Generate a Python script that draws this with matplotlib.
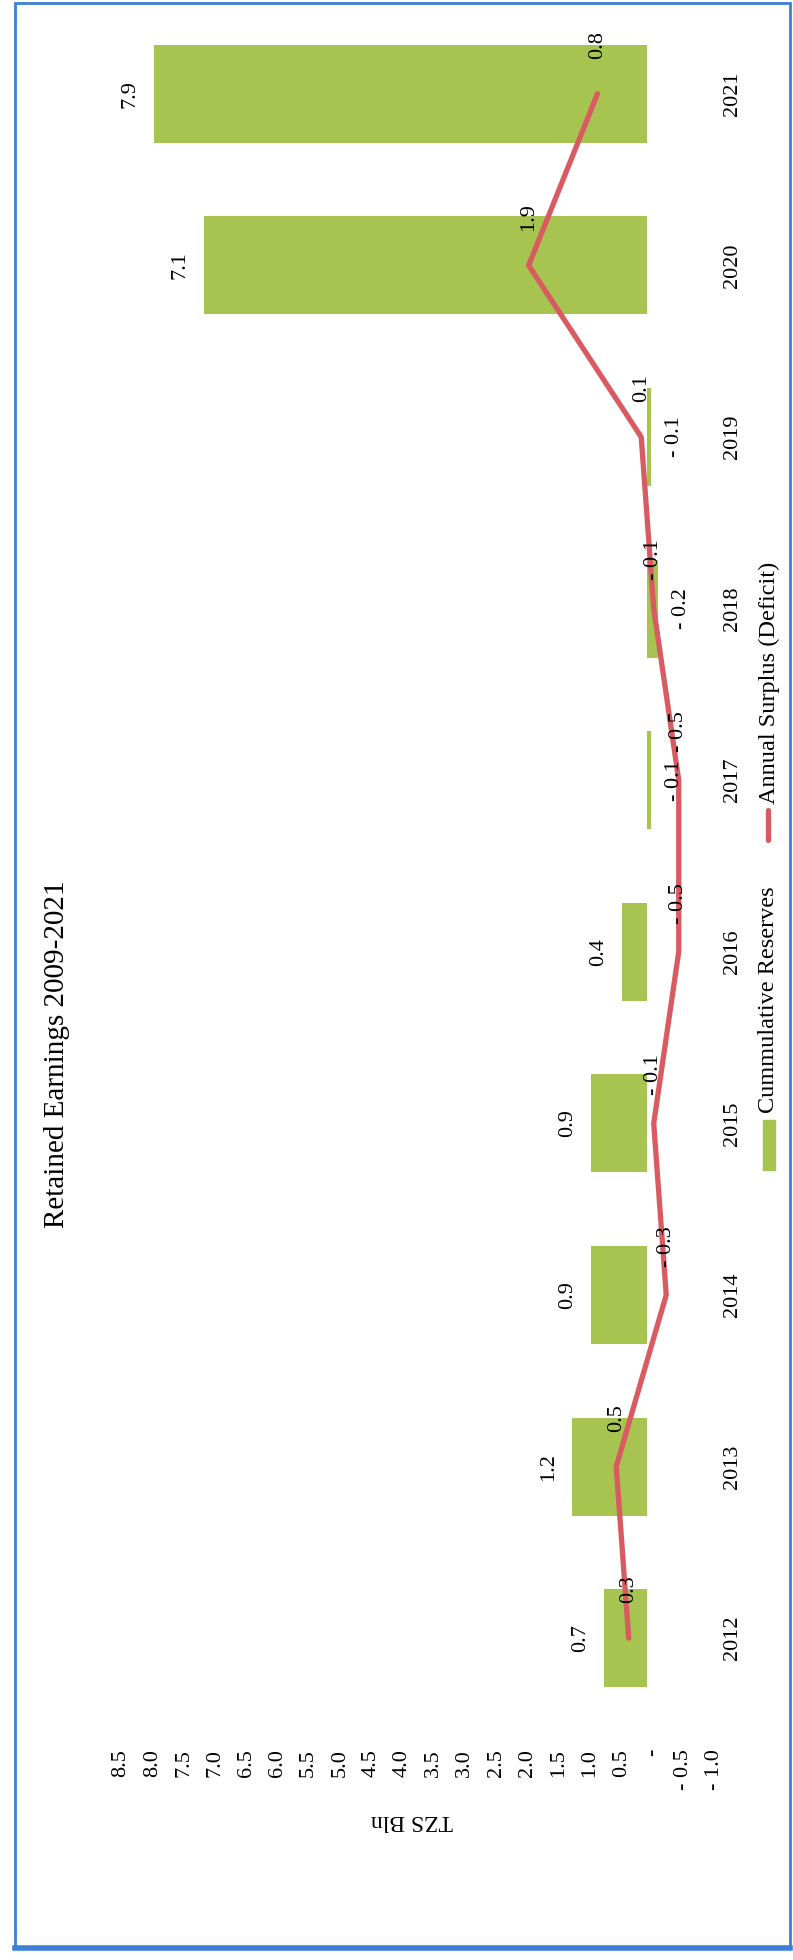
import numpy as np
import matplotlib
matplotlib.use('Agg')
from matplotlib import pyplot as plt
from matplotlib.patches import Rectangle
from matplotlib.lines import Line2D
from matplotlib.transforms import ScaledTranslation

"""
Retained Earnings 2009-2021 - chart is drawn turned a quarter turn
(years run bottom to top, values run right to left)
"""

years = ['2012', '2013', '2014', '2015', '2016', '2017', '2018', '2019', '2020', '2021']
cum_reserves = [0.7, 1.2, 0.9, 0.9, 0.4, -0.06, -0.17, -0.06, 7.1, 7.9]
annual_surplus = [0.3, 0.5, -0.3, -0.1, -0.5, -0.5, -0.1, 0.1, 1.9, 0.8]
value_ticks = np.arange(-1.0, 8.51, 0.5)

GREEN = '#a6c44f'
RED = '#d95a60'
BLUE = '#3c7fd6'
FONT = 'Liberation Serif'

W, H = 793, 1960


def fx(x):
    return x / W


def fy(y):
    return 1 - y / H


def acct(v):
    # accounting style labels: zero as '-', negatives as '- 0.1'
    if abs(v) < 0.05:
        return '-'
    if v < 0:
        return '- ' + format(-v, '.1f')
    return format(v, '.1f')


plt.rcParams['font.family'] = [FONT, 'DejaVu Serif']

fig = plt.figure(figsize=(W / 100, H / 100), dpi=100)

# frame
fig.patches.append(Rectangle((fx(15), fy(1948)), (790 - 15) / W, (1948 - 3) / H,
                             transform=fig.transFigure, fill=False, edgecolor=BLUE, lw=2))
fig.lines.append(Line2D([fx(15), fx(790)], [fy(1948), fy(1948)], transform=fig.transFigure,
                        color=BLUE, lw=4))

# value axis: 8.5 at x=116, -1.0 at x=710 (pixels)
ax = fig.add_axes([fx(116), fy(1724), (710 - 116) / W, (1724 - 8) / H])
idx = np.arange(len(years))

ax.barh(idx, cum_reserves, height=0.57, color=GREEN, zorder=2)
ax.plot(annual_surplus, idx, color=RED, lw=3.8, solid_capstyle='round', zorder=3)

ax.set_xlim(8.5, -1.0)
ax.set_ylim(-0.5, len(years) - 0.5)
for s in ax.spines.values():
    s.set_visible(False)

ax.set_xticks(value_ticks)
ax.set_xticklabels([acct(t) for t in value_ticks], rotation=90, fontsize=16)
ax.tick_params(axis='x', length=0, pad=18)
shift = ScaledTranslation(5 / 100, 0, fig.dpi_scale_trans)
for lab in ax.get_xticklabels():
    lab.set_transform(lab.get_transform() + shift)

ax.yaxis.tick_right()
ax.set_yticks(idx)
ax.set_yticklabels(years, rotation=90, fontsize=16, va='center')
ax.tick_params(axis='y', length=0, pad=9)

# bar labels at outside end
for i, v in enumerate(cum_reserves):
    if v >= 0:
        ax.annotate(acct(v), (v, i), xytext=(-10, 0), textcoords='offset points',
                    rotation=90, ha='right', va='center', fontsize=16, zorder=5)
    else:
        ax.annotate(acct(v), (v, i), xytext=(10, 0), textcoords='offset points',
                    rotation=90, ha='left', va='center', fontsize=16, zorder=5)

# line labels
for i, v in enumerate(annual_surplus):
    ax.annotate(acct(v), (v, i), xytext=(0, 35), textcoords='offset points',
                rotation=90, ha='center', va='center', fontsize=16, zorder=5)

fig.text(fx(57), fy(1054), 'Retained Earnings 2009-2021', rotation=90,
         ha='center', va='center', fontsize=21)
fig.text(fx(412), fy(1820), 'TZS Bln', rotation=180, ha='center', va='center', fontsize=17)

# legend, drawn by hand so it can turn with the chart
fig.patches.append(Rectangle((fx(763), fy(1170)), 12 / W, 50 / H, transform=fig.transFigure,
                             color=GREEN))
fig.text(fx(769), fy(1113), 'Cummulative Reserves', rotation=90, ha='center', va='bottom',
         fontsize=17.5)
fig.lines.append(Line2D([fx(768), fx(768)], [fy(840), fy(810)], transform=fig.transFigure,
                        color=RED, lw=3.8, solid_capstyle='round'))
fig.text(fx(769), fy(804), 'Annual Surplus (Deficit)', rotation=90, ha='center', va='bottom',
         fontsize=17.5)

fig.savefig('out.png', dpi=100)
